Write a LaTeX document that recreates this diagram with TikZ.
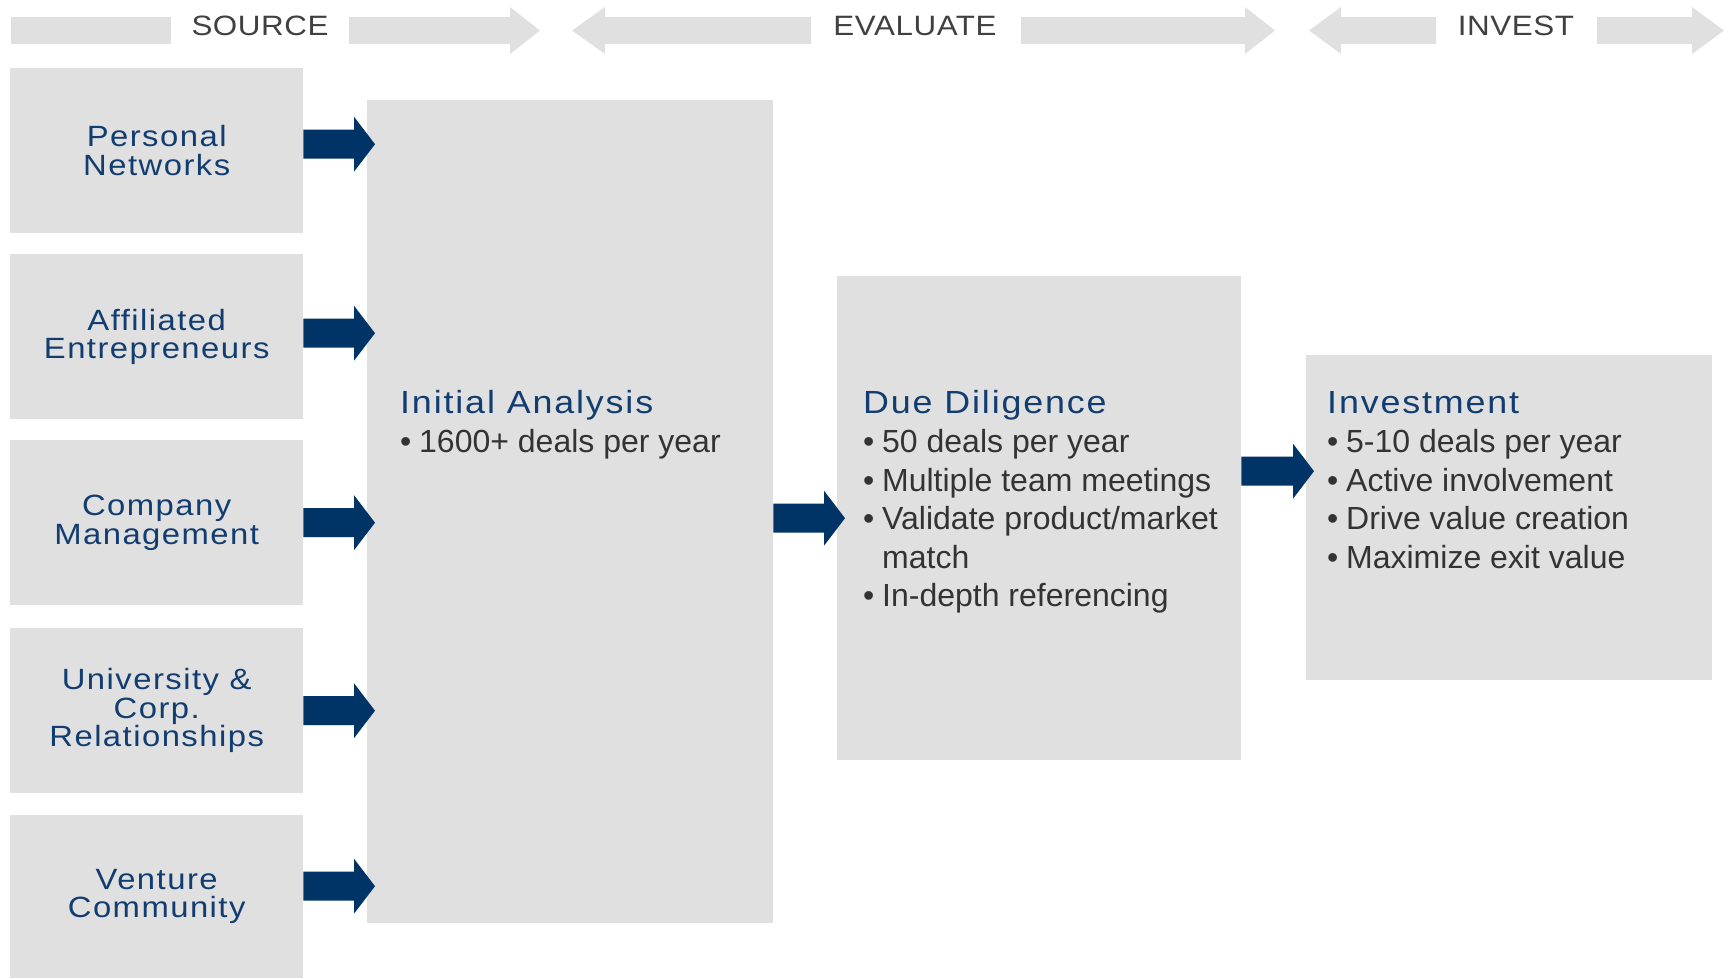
\documentclass[tikz,border=0pt]{standalone}
\usepackage{fontspec}
\setmainfont{Liberation Sans}
\newfontfamily\headfont[FakeStretch=1.12,LetterSpace=5.8]{Liberation Sans}
\newfontfamily\srcfont[FakeStretch=1.12,LetterSpace=5]{Liberation Sans}
\newfontfamily\bandfont[FakeStretch=1.12,LetterSpace=2]{Liberation Sans}
\usetikzlibrary{calc}

\definecolor{boxgray}{RGB}{224,224,224}
\definecolor{navy}{RGB}{0,51,102}
\definecolor{titleblue}{RGB}{18,61,112}
\definecolor{bodygray}{RGB}{51,51,51}
\definecolor{bandtext}{RGB}{64,64,64}

% bullet item with a fixed indent
\newcommand\itm[1]{\makebox[19pt][l]{\textbullet}#1}
% stage heading inside a text block
\newcommand\stagehead[1]{\leavevmode{\headfont\fontsize{32}{38.4}\selectfont\color{titleblue}#1}\\[1.5pt]}
% phase band arrow: start x, head base x, tip x
\newcommand\bandarrow[3]{%
  \fill[boxgray] (#1,17) -- (#2,17) -- (#2,7) -- (#3,30.5) -- (#2,54) -- (#2,44) -- (#1,44) -- cycle;}

\tikzset{
  gbox/.style={fill=boxgray, draw=none, inner sep=0pt, anchor=north west},
  srcbox/.style={gbox, minimum width=293pt, minimum height=165pt,
    text=titleblue, align=center, font=\srcfont\fontsize{29.3}{28.4}\selectfont},
  body/.style={inner sep=0pt, anchor=base west, text=bodygray,
    font=\fontsize{32}{38.4}\selectfont},
  bandlbl/.style={inner sep=0pt, anchor=base, text=bandtext,
    font=\bandfont\fontsize{28}{34}\selectfont},
  flow/.style={fill=navy, draw=none},
  blockarrow/.style={to path={let \p1=(\tikztostart), \p2=(\tikztotarget) in
    (\x1,\y1+14.5pt) -- (\x2-13pt,\y1+14.5pt) -- (\x2-13pt,\y1+27.5pt) --
    (\x2+8pt,\y1) -- (\x2-13pt,\y1-27.5pt) -- (\x2-13pt,\y1-14.5pt) --
    (\x1,\y1-14.5pt) -- cycle}}
}

\begin{document}
\begin{tikzpicture}[x=1pt,y=-1pt]
\useasboundingbox (0,0) rectangle (1730,978);

% phase band
\fill[boxgray] (11,17) rectangle (171,44);
\bandarrow{349}{510}{540}
\bandarrow{811}{605}{572}
\bandarrow{1021}{1245}{1275}
\bandarrow{1436}{1341}{1309}
\bandarrow{1597}{1692}{1724}
\node[bandlbl] (src) at (260,35) {SOURCE};
\node[bandlbl] (eva) at (915,35) {EVALUATE};
\node[bandlbl] (inv) at (1516,35) {INVEST};

% deal sources
\node[srcbox] (pn) at (10,68) {Personal\\Networks};
\node[srcbox] (ae) at (10,254) {Affiliated\\Entrepreneurs};
\node[srcbox] (cm) at (10,440) {Company\\Management};
\node[srcbox] (uc) at (10,628) {University \&\\Corp.\\Relationships};
\node[srcbox, minimum height=163pt] (vc) at (10,815) {Venture\\Community};

% pipeline stages
\node[gbox, minimum width=406pt, minimum height=823pt] (ia) at (367,100) {};
\node[gbox, minimum width=404pt, minimum height=484pt] (dd) at (837,276) {};
\node[gbox, minimum width=406pt, minimum height=325pt] (ib) at (1306,355) {};

\node[body] (iatext) at (400,413) {\parbox[t]{360pt}{\raggedright
  \stagehead{Initial Analysis}
  \itm{1600+ deals per year}}};
\node[body] (ddtext) at (863,413) {\parbox[t]{380pt}{\raggedright
  \stagehead{Due Diligence}
  \itm{50 deals per year}\\
  \itm{Multiple team meetings}\\
  \itm{Validate product/market}\\
  \hspace*{19pt}match\\
  \itm{In-depth referencing}}};
\node[body] (ibtext) at (1327,413) {\parbox[t]{380pt}{\raggedright
  \stagehead{Investment}
  \itm{5-10 deals per year}\\
  \itm{Active involvement}\\
  \itm{Drive value creation}\\
  \itm{Maximize exit value}}};

% flow arrows
\path[flow] ([yshift=6.5pt]pn.east) to[blockarrow] (ia.west);
\path[flow] ([yshift=3.5pt]ae.east) to[blockarrow] (ia.west);
\path[flow] ([yshift=0pt]cm.east) to[blockarrow] (ia.west);
\path[flow] ([yshift=0pt]uc.east) to[blockarrow] (ia.west);
\path[flow] ([yshift=10.5pt]vc.east) to[blockarrow] (ia.west);
\path[flow] ([yshift=-6.5pt]ia.east) to[blockarrow] (dd.west);
\path[flow] ([yshift=47pt]dd.east) to[blockarrow] (ib.west);
\end{tikzpicture}
\end{document}
